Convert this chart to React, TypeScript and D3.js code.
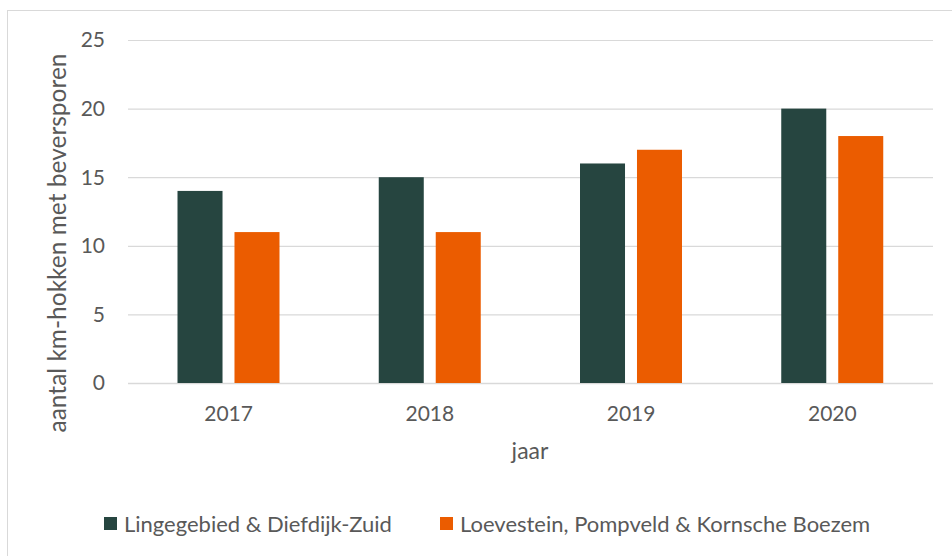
import React, { useEffect, useRef } from 'react';
import * as d3 from 'd3';

const years = ['2017', '2018', '2019', '2020'];
const seriesNames = ['Lingegebied & Diefdijk-Zuid', 'Loevestein, Pompveld & Kornsche Boezem'];
const lingeValues = [14, 15, 16, 20];
const loevesteinValues = [11, 11, 17, 18];
const yTicks = [0, 5, 10, 15, 20, 25];

const colors = ['#264540', '#EB5C00'];
const textColor = '#595959';
const font = 'Lato, "Open Sans", sans-serif';

const App: React.FC = () => {
  const svgRef = useRef<SVGSVGElement>(null);

  useEffect(() => {
    if (!svgRef.current) return;
    const svg = d3.select(svgRef.current);
    svg.selectAll('*').remove();

    const left = 128;
    const right = 933;
    const top = 40;
    const bottom = 383;

    // chart border
    svg.append('rect')
      .attr('x', 7.5).attr('y', 10.5)
      .attr('width', 960).attr('height', 560)
      .attr('fill', '#fff')
      .attr('stroke', '#d9d9d9');

    const x0 = d3.scaleBand().domain(years).range([left, right]);
    const x1 = d3.scaleBand().domain(seriesNames)
      .range([49.5, 151.5]).paddingInner(0.21);
    const y = d3.scaleLinear().domain([0, 25]).range([bottom, top]);

    const g = svg.append('g');

    // gridlines
    g.selectAll('line.grid')
      .data(yTicks)
      .enter()
      .append('line')
      .attr('x1', left).attr('x2', right)
      .attr('y1', d => y(d) + 0.5).attr('y2', d => y(d) + 0.5)
      .attr('stroke', '#d9d9d9')
      .attr('stroke-width', d => (d === 0 ? 1.5 : 1.2));

    // y labels
    g.selectAll('text.ytick')
      .data(yTicks)
      .enter()
      .append('text')
      .attr('x', 105)
      .attr('y', d => y(d))
      .attr('dy', '0.35em')
      .attr('text-anchor', 'end')
      .attr('fill', textColor)
      .style('font', `21px ${font}`)
      .text(d => d);

    // bars
    const rows = years.map((yr, i) => ({ yr, values: [lingeValues[i], loevesteinValues[i]] }));
    const grp = g.selectAll('g.cat')
      .data(rows)
      .enter()
      .append('g')
      .attr('transform', d => `translate(${x0(d.yr)},0)`);

    grp.selectAll('rect')
      .data(d => d.values.map((v, i) => ({ v, name: seriesNames[i], i })))
      .enter()
      .append('rect')
      .attr('x', d => x1(d.name) || 0)
      .attr('y', d => y(d.v))
      .attr('width', x1.bandwidth())
      .attr('height', d => bottom - y(d.v))
      .attr('fill', d => colors[d.i]);

    // x labels
    g.selectAll('text.xtick')
      .data(years)
      .enter()
      .append('text')
      .attr('x', d => (x0(d) || 0) + x0.bandwidth() / 2)
      .attr('y', 421)
      .attr('text-anchor', 'middle')
      .attr('fill', textColor)
      .style('font', `21px ${font}`)
      .text(d => d);

    // axis titles
    svg.append('text')
      .attr('x', 530).attr('y', 459)
      .attr('text-anchor', 'middle')
      .attr('fill', textColor)
      .style('font', `23px ${font}`)
      .text('jaar');

    svg.append('text')
      .attr('transform', 'translate(66,243) rotate(-90)')
      .attr('text-anchor', 'middle')
      .attr('fill', textColor)
      .style('font', `24.5px ${font}`)
      .text('aantal km-hokken met beversporen');

    // legend
    const legendX = [104, 440];
    const leg = svg.selectAll('g.legend')
      .data(seriesNames)
      .enter()
      .append('g')
      .attr('transform', (d, i) => `translate(${legendX[i]},517)`);
    leg.append('rect')
      .attr('width', 13).attr('height', 13)
      .attr('fill', (d, i) => colors[i]);
    leg.append('text')
      .attr('x', 20).attr('y', 7)
      .attr('dy', '0.35em')
      .attr('fill', textColor)
      .style('font', `22px ${font}`)
      .text(d => d);
  }, []);

  return (
    <svg
      ref={svgRef}
      width={952}
      height={556}
      style={{ position: 'absolute', left: 0, top: 0 }}
    />
  );
};

export default App;
